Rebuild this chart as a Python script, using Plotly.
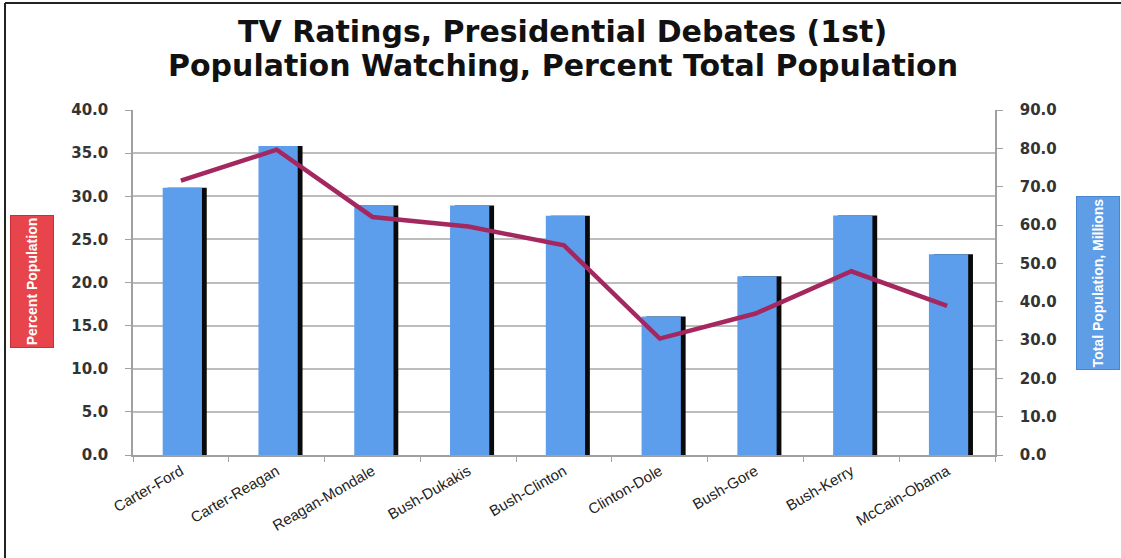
import plotly.graph_objects as go

# ---- data ----
debates = ["Carter-Ford", "Carter-Reagan", "Reagan-Mondale", "Bush-Dukakis",
           "Bush-Clinton", "Clinton-Dole", "Bush-Gore", "Bush-Kerry", "McCain-Obama"]
viewers_millions = [69.7, 80.6, 65.1, 65.1, 62.4, 36.1, 46.6, 62.5, 52.4]
percent_population = [31.8, 35.4, 27.6, 26.5, 24.3, 13.5, 16.4, 21.3, 17.3]

left_ticks = [0, 5, 10, 15, 20, 25, 30, 35, 40]
right_ticks = [0, 10, 20, 30, 40, 50, 60, 70, 80, 90]

# ---- layout constants ----
W, H = 1121, 558
ML, MR, MT, MB = 133, 126, 110, 103
PW, PH = W - ML - MR, H - MT - MB

def px_x(p):
    return (p - ML) / PW

def px_y(p):
    return (H - MB - p) / PH

fig = go.Figure()

# shadow bars (drawn first, behind)
fig.add_trace(go.Bar(
    x=debates, y=viewers_millions, yaxis="y",
    marker=dict(color="#0a0a0a", line=dict(width=0)),
    width=0.41, offset=-0.14, hoverinfo="skip", showlegend=False,
))
# main bars
fig.add_trace(go.Bar(
    x=debates, y=viewers_millions, yaxis="y",
    marker=dict(color="#5d9eec", line=dict(width=0)),
    width=0.41, offset=-0.19, name="Total Population, Millions", showlegend=False,
))
# percent line
fig.add_trace(go.Scatter(
    x=debates, y=percent_population, yaxis="y2", mode="lines",
    line=dict(color="#a4275f", width=4.5),
    name="Percent Population", showlegend=False,
))

tick_font = dict(family="DejaVu Sans", size=15, color="#333333", weight="bold")
title_font = dict(family="DejaVu Sans", size=30, color="#111111", weight="bold")

fig.update_layout(
    width=W, height=H,
    margin=dict(l=ML, r=MR, t=MT, b=MB, pad=0),
    paper_bgcolor="white", plot_bgcolor="white",
    barmode="overlay",
    annotations=[
        dict(text="TV Ratings, Presidential Debates (1st)",
             xref="paper", yref="paper", x=px_x(562), y=px_y(51),
             xanchor="center", yanchor="bottom", showarrow=False, font=title_font),
        dict(text="Population Watching, Percent Total Population",
             xref="paper", yref="paper", x=px_x(563), y=px_y(85),
             xanchor="center", yanchor="bottom", showarrow=False, font=title_font),
        dict(text="Percent Population", textangle=-90,
             xref="paper", yref="paper", x=px_x(32), y=px_y(282),
             xanchor="center", yanchor="middle", showarrow=False,
             width=129, height=40, bgcolor="#e8444c", bordercolor="#c83038", borderwidth=1,
             font=dict(family="Liberation Sans Narrow, Liberation Sans", size=14, color="white", weight="bold")),
        dict(text="Total Population, Millions", textangle=-90,
             xref="paper", yref="paper", x=px_x(1098), y=px_y(283),
             xanchor="center", yanchor="middle", showarrow=False,
             width=170, height=40, bgcolor="#5f9de6", bordercolor="#4a86cf", borderwidth=1,
             font=dict(family="Liberation Sans Narrow, Liberation Sans", size=14, color="white", weight="bold")),
    ],
    xaxis=dict(
        type="category", showgrid=False,
        showline=True, linecolor="#a0a0a0", linewidth=1.5,
        ticks="outside", tickson="boundaries", ticklen=5, tickcolor="#a0a0a0",
        tickangle=-30,
        tickfont=dict(family="Liberation Sans", size=15, color="#222222"),
    ),
    yaxis=dict(
        side="right", range=[0, 90], tickvals=right_ticks, tickformat=".1f",
        showgrid=False, zeroline=False,
        showline=True, linecolor="#a0a0a0", linewidth=1.5,
        ticks="outside", ticklen=6, tickcolor="#a0a0a0",
        ticklabelstandoff=14,
        tickfont=tick_font,
    ),
    yaxis2=dict(
        overlaying="y", side="left", range=[0, 40], tickvals=left_ticks, tickformat=".1f",
        showgrid=True, gridcolor="#bdbdbd", gridwidth=1.5, zeroline=False,
        showline=True, linecolor="#a0a0a0", linewidth=1.5,
        ticks="outside", ticklen=6, tickcolor="#a0a0a0",
        ticklabelstandoff=14,
        tickfont=tick_font,
    ),
    shapes=[
        dict(type="line", xref="paper", yref="paper",
             x0=px_x(5), x1=px_x(W), y0=px_y(3), y1=px_y(3),
             line=dict(color="#222222", width=2), layer="above"),
        dict(type="line", xref="paper", yref="paper",
             x0=px_x(5), x1=px_x(5), y0=px_y(3), y1=px_y(H),
             line=dict(color="#222222", width=2), layer="above"),
    ],
)

fig.write_html("out.html")
